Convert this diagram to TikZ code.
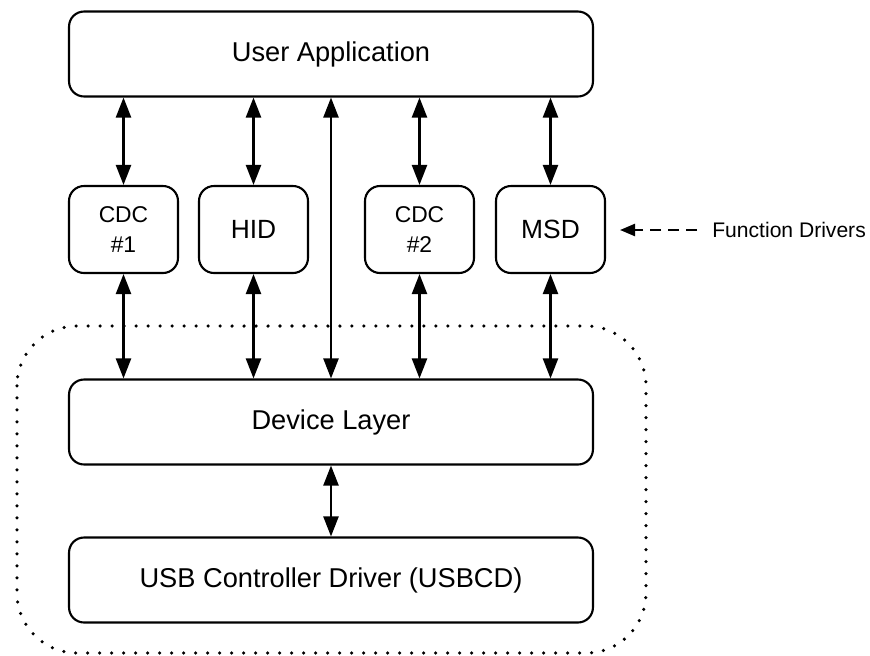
\documentclass[tikz,border=0pt]{standalone}
\usepackage{fontspec}
\setmainfont{Liberation Sans}
\usetikzlibrary{arrows.meta}
\begin{document}
\begin{tikzpicture}[
			x=0.02cm, y=-0.02cm,
			box/.style={draw, line width=1.2pt, rounded corners=0.3cm, align=center},
			layer/.style={box, minimum width=10.48cm, minimum height=1.7cm, font=\fontsize{15.5}{18}\selectfont},
			drv/.style={box, minimum width=2.18cm, minimum height=1.74cm, font=\fontsize{13}{17}\selectfont},
			link/.style={line width=1.3pt, {Triangle[length=0.4cm,width=0.3cm]}-{Triangle[length=0.4cm,width=0.3cm]}}
		]
		\useasboundingbox (0,0) rectangle (870,656);
		% device side
		\draw[line width=2pt, dash pattern=on 0pt off 0.24cm, line cap=round, rounded corners=1.2cm]
			(17,326) rectangle (646,653);
		\node[layer] (app) at (331,54) {User Application};
		\node[drv] (cdc1) at (123.5,229.5) {CDC\\\#1};
		\node[drv, font=\fontsize{15}{18}\selectfont] (hid) at (253.5,229.5) {HID};
		\node[drv] (cdc2) at (419.5,229.5) {CDC\\\#2};
		\node[drv, font=\fontsize{15}{18}\selectfont] (msd) at (550.5,229.5) {MSD};
		\node[layer] (dev) at (331,422) {Device Layer};
		\node[layer] (usbcd) at (331,580) {USB Controller Driver (USBCD)};
		% connectors
		\foreach \d in {cdc1,hid,cdc2,msd} {
			\draw[link] (\d.north) -- (\d.north |- app.south);
			\draw[link] (\d.south) -- (\d.south |- dev.north);
		}
		\draw[link] (app.south) -- (dev.north);
		\draw[link] (dev.south) -- (usbcd.north);
		% label
		\node[anchor=west, inner xsep=0.3cm, inner ysep=0pt, font=\fontsize{12}{14}\selectfont] (fd) at (697,230) {Function Drivers};
		\coordinate (fdtip) at (620,230);
		\draw[line width=1.3pt, dash pattern=on 0.22cm off 0.14cm, -{Triangle[length=0.3cm,width=0.24cm]}] (fd.west) -- (fdtip);
	\end{tikzpicture}
\end{document}
